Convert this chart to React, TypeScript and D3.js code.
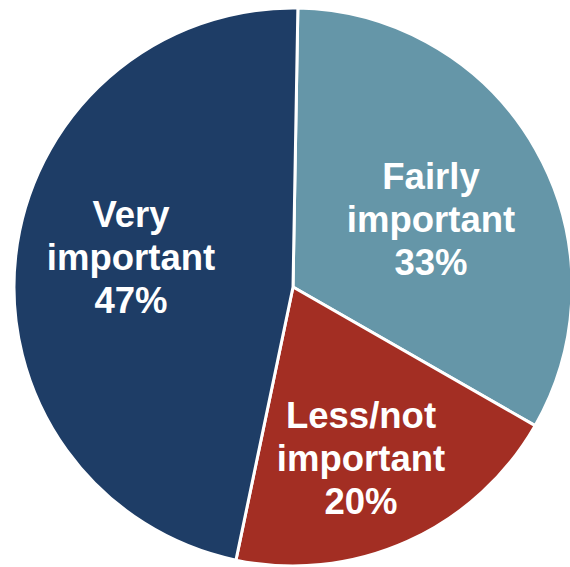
import React from "react";
import * as d3 from "d3";

const categories = ["Fairly important", "Less/not important", "Very important"];
const labelLines = [["Fairly", "important"], ["Less/not", "important"], ["Very", "important"]];
const values = [33, 20, 47];
const colors = ["#6596a8", "#a32e23", "#1e3d66"];

const W = 570;
const H = 567;
const cx = 293;
const cy = 287;
const R = 279;
// label centers (layout), per slice index
const labelPos: [number, number][] = [
  [431, 232],
  [361, 471],
  [131, 270],
];

export default function App() {
  const pie = d3
    .pie<number>()
    .sort(null)
    .startAngle((1 * Math.PI) / 180)
    .endAngle((361 * Math.PI) / 180)
    .value((d) => d);
  const arcs = pie(values);
  const arc = d3.arc<d3.PieArcDatum<number>>().innerRadius(0).outerRadius(R);
  const fs = 36.5;
  const lh = 43;
  return (
    <svg
      width={W}
      height={H}
      style={{ position: "absolute", left: 0, top: 0, display: "block" }}
    >
      <rect width={W} height={H} fill="#ffffff" />
      <g transform={`translate(${cx},${cy})`}>
        {arcs.map((a, i) => (
          <path
            key={categories[i]}
            d={arc(a) || ""}
            fill={colors[i]}
            stroke="#ffffff"
            strokeWidth={3}
            strokeLinejoin="round"
          />
        ))}
      </g>
      {arcs.map((a, i) => {
        const [x, y] = labelPos[i];
        const lines = [...labelLines[i], `${values[i]}%`];
        return (
          <text
            key={"t" + i}
            x={x}
            textAnchor="middle"
            fill="#ffffff"
            fontFamily="'Liberation Sans', Arial, sans-serif"
            fontWeight="bold"
            fontSize={fs}
          >
            {lines.map((l, j) => (
              <tspan key={j} x={x} y={y + (j - 1) * lh}>
                {l}
              </tspan>
            ))}
          </text>
        );
      })}
    </svg>
  );
}
